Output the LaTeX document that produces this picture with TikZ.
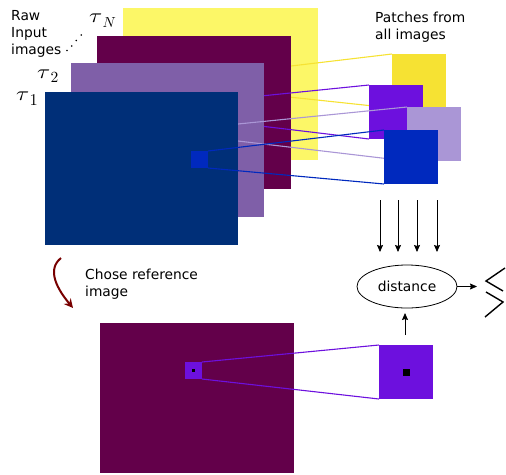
\documentclass[tikz,border=0pt]{standalone}
\usepackage{fontspec}
\setmainfont{DejaVu Sans}
\usetikzlibrary{arrows.meta,shapes.geometric}
\definecolor{imgY}{HTML}{FCF767}
\definecolor{imgP}{HTML}{63004A}
\definecolor{imgL}{HTML}{7F5FA8}
\definecolor{imgB}{HTML}{002F78}
\definecolor{patY}{HTML}{F6E233}
\definecolor{patP}{HTML}{6D10DE}
\definecolor{patL}{HTML}{AA96D6}
\definecolor{patB}{HTML}{0029BE}
\definecolor{curveRed}{HTML}{780000}
\newcommand\mytau[2]{\scalebox{2.4}[2.0]{$\tau$}\kern0.3pt\raisebox{-4.5pt}{\scalebox{#2}{$#1$}}}
\begin{document}
\begin{tikzpicture}[x=1pt,y=-1pt,
  patch/.style={inner sep=0pt,outer sep=0pt,anchor=north west,minimum size=#1},
  link/.style={line width=1.1pt},
  txt/.style={inner sep=0pt,anchor=north west,align=left,font=\fontsize{13.8}{17}\selectfont},
  tau/.style={inner sep=0pt,anchor=base west},
  arr/.style={line width=0.8pt,-{Stealth[length=7pt,width=6pt,inset=1pt]}}]
\useasboundingbox (0,0) rectangle (506,474);

% tau_N image (yellow)
\fill[imgY] (123,8) rectangle (318,160);
\node[patch=17pt,fill=patY] (hy) at (211,73.5) {};
\node[patch=54pt,fill=patY] (py) at (392,54) {};
\draw[link,patY] (hy.north east) -- (py.north west);
\draw[link,patY] (hy.south east) -- (py.south west);

% third image (dark purple)
\fill[imgP] (97,36) rectangle (291,189);
\node[patch=17pt,fill=patP] (hp) at (185,102) {};
\node[patch=54pt,fill=patP] (pp) at (369,85) {};
\draw[link,patP] (hp.north east) -- (pp.north west);
\draw[link,patP] (hp.south east) -- (pp.south west);

% tau_2 image (light purple)
\fill[imgL] (71,63) rectangle (264,217);
\node[patch=17pt,fill=patL] (hl) at (221,124) {};
\node[patch=54pt,fill=patL] (pl) at (407,107) {};
\draw[link,patL] (hl.north east) -- (pl.north west);
\draw[link,patL] (hl.south east) -- (pl.south west);

% tau_1 image (dark blue)
\fill[imgB] (45,92) rectangle (238,245);
\node[patch=17pt,fill=patB] (hb) at (191,151) {};
\node[patch=54pt,fill=patB] (pb) at (384,130) {};
\draw[link,patB] (hb.north east) -- (pb.north west);
\draw[link,patB] (hb.south east) -- (pb.south west);

% labels
\node[txt] (raw) at (11,10) {Raw\\Input\\images};
\node[tau] (t1) at (16,100.5) {\mytau{1}{1.65}};
\node[tau] (t2) at (37,78) {\mytau{2}{1.55}};
\node[tau] (tN) at (89,22.5) {\mytau{N}{1.45}};
\foreach \p in {(67,50.5),(71.7,46),(76.3,40.5),(81.3,35)}
  \fill[black] \p circle (0.9);
\node[txt] (pat) at (375,12.3) {Patches from\\all images};

% arrows down to distance
\node[ellipse,draw,line width=0.8pt,minimum width=100pt,minimum height=43pt,inner sep=0pt,
      font=\fontsize{13.8}{17}\selectfont] (dist) at (407,286.5) {distance};
\foreach \x [count=\i] in {380,398,417,437}{
  \coordinate (s\i) at (\x,200);
  \coordinate (e\i) at (\x,252);
  \draw[arr] (s\i) -- (e\i);
}
\coordinate (cmp) at (477,286.5);
\draw[arr] (dist.east) -- (cmp);
\draw[line width=1.4pt] (505,268) -- (486,281) -- (503,291);
\draw[line width=1.4pt] (486,292) -- (503,302) -- (485,317);

% chose reference
\coordinate (cs) at (61,258);
\coordinate (ce) at (73,308);
\draw[curveRed,line width=2pt,-{Stealth[length=9pt,width=9pt,inset=3pt]}]
  (cs) .. controls (46,270) and (58,290) .. (ce);
\node[txt] (chose) at (85,268.8) {Chose reference\\image};

% reference image
\fill[imgP] (100,323) rectangle (294,473);
\node[patch=17pt,fill=patP] (rp) at (185,362) {};
\node[patch=54pt,fill=patP] (RP) at (379,345) {};
\draw[link,patP] (rp.north east) -- (RP.north west);
\draw[link,patP] (rp.south east) -- (RP.south west);
\node[inner sep=0pt,fill=black,minimum size=3pt] (rd) at (rp.center) {};
\node[inner sep=0pt,fill=black,minimum size=7pt] (Rd) at (RP.center) {};
\coordinate (us) at (405,335);
\coordinate (ue) at (405,313);
\draw[arr] (us) -- (ue);
\end{tikzpicture}
\end{document}
